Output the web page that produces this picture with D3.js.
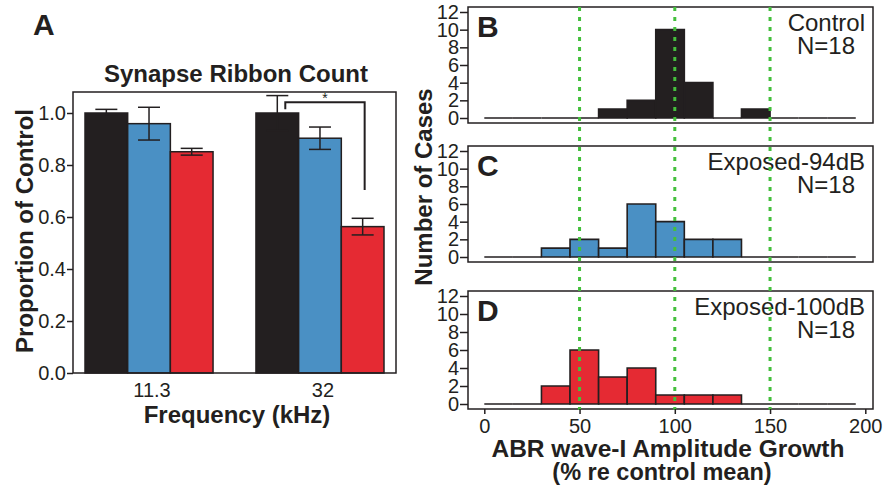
<!DOCTYPE html>
<html>
<head>
<meta charset="utf-8">
<script src="https://cdn.jsdelivr.net/npm/d3@7"></script>
<style>
  body { margin: 0; background: #fff; }
  svg { font-family: "Liberation Sans", Arial, sans-serif; }
</style>
</head>
<body>
<div class="chart"></div>
<script>
// panel A data
const frequencies = ["11.3", "32"];
const groups = ["Control", "Exposed-94dB", "Exposed-100dB"];
const ribbonMean = {
    "Control": [1.0, 1.0],
    "Exposed-94dB": [0.959, 0.903],
    "Exposed-100dB": [0.851, 0.563]
};
const ribbonErr = {
    "Control": [0.014, 0.067],
    "Exposed-94dB": [0.063, 0.043],
    "Exposed-100dB": [0.013, 0.032]
};
const ribbonTicks = [0, 0.2, 0.4, 0.6, 0.8, 1.0];

// panels B-D data (histogram, bins of 15%)
const binEdges = [0, 15, 30, 45, 60, 75, 90, 105, 120, 135, 150, 165, 180, 195];
const countsControl = [0, 0, 0, 0, 1, 2, 10, 4, 0, 1, 0, 0, 0];
const counts94 = [0, 0, 1, 2, 1, 6, 4, 2, 2, 0, 0, 0, 0];
const counts100 = [0, 0, 2, 6, 3, 4, 1, 1, 1, 0, 0, 0, 0];
const countTicks = [0, 2, 4, 6, 8, 10, 12];
const growthTicks = [0, 50, 100, 150, 200];
const refLines = [50, 100, 150];

const colors = { "Control": "#231f20", "Exposed-94dB": "#4a90c4", "Exposed-100dB": "#e52a33" };
const ink = "#231f20";

const svg = d3.select(".chart").append("svg")
    .attr("width", 887).attr("height", 490);

// ---------- panel A ----------
const yA = d3.scaleLinear().domain([0, 1]).range([373, 113]);
const xA = d3.scaleBand().domain(frequencies).range([85, 384]).paddingInner(0.251).paddingOuter(0);
const xInner = d3.scaleBand().domain(groups).range([0, xA.bandwidth()]);

svg.append("text").attr("x", 33).attr("y", 35)
    .attr("font-size", 30).attr("font-weight", "bold").attr("fill", ink).text("A");
svg.append("text").attr("x", 236).attr("y", 82).attr("text-anchor", "middle")
    .attr("font-size", 24).attr("font-weight", "bold").attr("fill", ink).text("Synapse Ribbon Count");

const gA = svg.append("g");
frequencies.forEach((f, i) => {
    groups.forEach(g => {
        const x0 = xA(f) + xInner(g);
        const v = ribbonMean[g][i], e = ribbonErr[g][i];
        const cx = x0 + xInner.bandwidth() / 2;
        gA.append("rect")
            .attr("x", x0).attr("y", yA(v))
            .attr("width", xInner.bandwidth()).attr("height", yA(0) - yA(v))
            .attr("fill", colors[g]).attr("stroke", ink).attr("stroke-width", 1.5);
        gA.append("line").attr("x1", cx).attr("x2", cx)
            .attr("y1", yA(v + e)).attr("y2", yA(v - e))
            .attr("stroke", ink).attr("stroke-width", 1.5);
        [v + e, v - e].forEach(t => {
            gA.append("line").attr("x1", cx - 11).attr("x2", cx + 11)
                .attr("y1", yA(t)).attr("y2", yA(t))
                .attr("stroke", ink).attr("stroke-width", 1.5);
        });
    });
});

// frame
svg.append("rect").attr("x", 73).attr("y", 92).attr("width", 323).attr("height", 281)
    .attr("fill", "none").attr("stroke", ink).attr("stroke-width", 1.5);

const axA = svg.append("g").attr("transform", "translate(73,0)")
    .call(d3.axisLeft(yA).tickValues(ribbonTicks).tickFormat(d3.format(".1f")).tickSize(6).tickPadding(1));
axA.select(".domain").remove();
axA.selectAll("line").attr("stroke", ink).attr("stroke-width", 1.5);
axA.selectAll("text").attr("font-size", 20).attr("fill", ink).attr("font-family", null);

// frequency labels
frequencies.forEach(f => {
    svg.append("text").attr("x", xA(f) + xA.bandwidth() / 2 + 3).attr("y", 397)
        .attr("text-anchor", "middle").attr("font-size", 20).attr("fill", ink).text(f);
});
svg.append("text").attr("x", 237).attr("y", 423).attr("text-anchor", "middle")
    .attr("font-size", 24).attr("font-weight", "bold").attr("fill", ink).text("Frequency (kHz)");
svg.append("text").attr("transform", "translate(33,231) rotate(-90)").attr("text-anchor", "middle")
    .attr("font-size", 24).attr("font-weight", "bold").attr("fill", ink).text("Proportion of Control");

// significance bracket between control and 100dB at 32 kHz
const bl = xA("32") + xInner("Control") + xInner.bandwidth() / 2 + 8;
const br = xA("32") + xInner("Exposed-100dB") + xInner.bandwidth() / 2 + 2;
svg.append("path")
    .attr("d", `M${bl},${yA(1.014)}V${yA(1.041)}H${br}V${yA(0.704)}`)
    .attr("fill", "none").attr("stroke", ink).attr("stroke-width", 2);
svg.append("text").attr("x", (bl + br) / 2).attr("y", 103).attr("text-anchor", "middle")
    .attr("font-size", 14).attr("fill", ink).text("*");

// ---------- panels B-D ----------
const xH = d3.scaleLinear().domain([0, 200]).range([484.3, 865.3]);
const panels = [
    { letter: "B", name: "Control", counts: countsControl, top: 12, bottom: 118 },
    { letter: "C", name: "Exposed-94dB", counts: counts94, top: 151, bottom: 257 },
    { letter: "D", name: "Exposed-100dB", counts: counts100, top: 296, bottom: 404 }
];

panels.forEach(p => {
    const y = d3.scaleLinear().domain([0, 12]).range([p.bottom, p.top]);
    const g = svg.append("g");

    g.append("rect").attr("x", 468).attr("y", p.top - 5).attr("width", 405).attr("height", p.bottom - p.top + 10)
        .attr("fill", "none").attr("stroke", ink).attr("stroke-width", 1.5);

    const ax = g.append("g").attr("transform", "translate(468,0)")
        .call(d3.axisLeft(y).tickValues(countTicks).tickSize(8).tickPadding(1));
    ax.select(".domain").remove();
    ax.selectAll("line").attr("stroke", ink).attr("stroke-width", 1.5);
    ax.selectAll("text").attr("font-size", 20).attr("fill", ink).attr("font-family", null);

    g.selectAll("path.bin")
        .data(p.counts)
        .join("path")
        .attr("class", "bin")
        .attr("d", (c, i) => `M${xH(binEdges[i])},${y(0)}V${y(c)}H${xH(binEdges[i + 1])}V${y(0)}Z`)
        .attr("fill", colors[p.name])
        .attr("stroke", ink)
        .attr("stroke-width", c => c === 0 ? 1.3 : 1.6);

    g.append("text").attr("x", 477).attr("y", p.top + 25)
        .attr("font-size", 30).attr("font-weight", "bold").attr("fill", ink).text(p.letter);
    g.append("text").attr("x", 865).attr("y", p.top + 19).attr("text-anchor", "end")
        .attr("font-size", 24).attr("fill", ink).text(p.name);
    g.append("text").attr("x", 855).attr("y", p.top + 42).attr("text-anchor", "end")
        .attr("font-size", 24).attr("fill", ink).text("N=" + d3.sum(p.counts));
});

// reference lines across all panels
svg.selectAll("line.ref")
    .data(refLines)
    .join("line")
    .attr("class", "ref")
    .attr("x1", d => xH(d)).attr("x2", d => xH(d))
    .attr("y1", 7).attr("y2", 410)
    .attr("stroke", "#44c03c").attr("stroke-width", 3)
    .attr("stroke-dasharray", "4,6");

const axH = svg.append("g").attr("transform", "translate(0,409)")
    .call(d3.axisBottom(xH).tickValues(growthTicks).tickSize(5).tickPadding(5));
axH.select(".domain").remove();
axH.selectAll("line").attr("stroke", ink).attr("stroke-width", 1.5);
axH.selectAll("text").attr("font-size", 20).attr("fill", ink).attr("font-family", null);

svg.append("text").attr("x", 668).attr("y", 457).attr("text-anchor", "middle")
    .attr("font-size", 24.5).attr("font-weight", "bold").attr("fill", ink).text("ABR wave-I Amplitude Growth");
svg.append("text").attr("x", 662).attr("y", 480).attr("text-anchor", "middle")
    .attr("font-size", 23.5).attr("font-weight", "bold").attr("fill", ink).text("(% re control mean)");
svg.append("text").attr("transform", "translate(432,187) rotate(-90)").attr("text-anchor", "middle")
    .attr("font-size", 24).attr("font-weight", "bold").attr("fill", ink).text("Number of Cases");
</script>
</body>
</html>
